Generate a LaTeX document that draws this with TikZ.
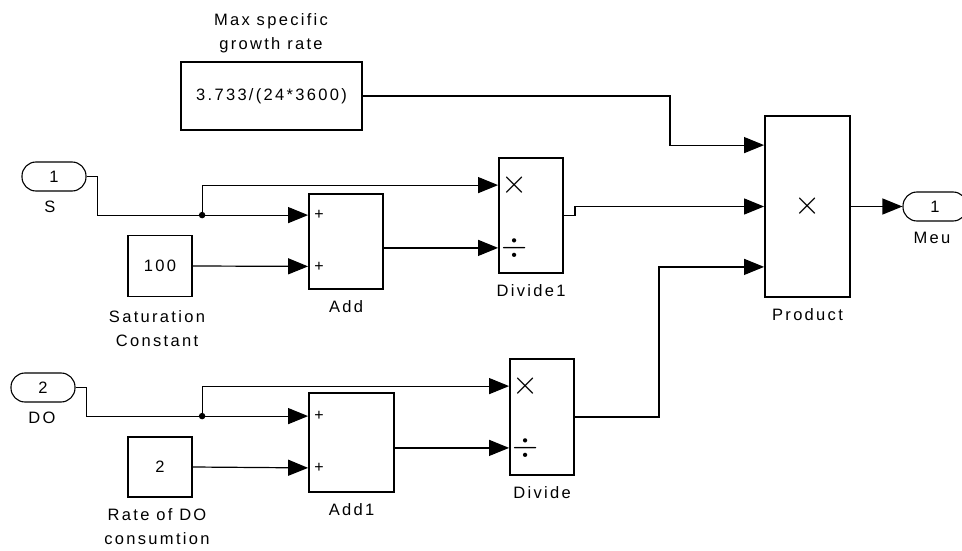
\documentclass[tikz,border=0pt]{standalone}
\usepackage{graphicx}
\usepackage{fontspec}
\setmainfont{Liberation Sans}[LetterSpace=14]
\usetikzlibrary{arrows.meta}
\begin{document}
\begin{tikzpicture}[x=1pt,y=-1pt,
  blk/.style={draw, line width=1.8pt, fill=white, inner sep=0, font=\fontsize{16.5}{20}\selectfont},
  port/.style={draw, line width=1.1pt, rounded corners=14pt, inner sep=0, minimum width=64pt, minimum height=29pt, font=\fontsize{16.5}{20}\selectfont},
  lbl/.style={inner sep=0, anchor=north, align=center, font=\fontsize{16.5}{24}\selectfont},
  sig/.style={line width=1.2pt, -{Triangle[length=20pt,width=16pt]}},
  wire/.style={line width=1.2pt},
  sym/.style={inner sep=0},
  mulsym/.style={inner sep=0, font=\fontsize{24}{26}\selectfont},
  divsym/.style={inner sep=0, font=\fontsize{24}{26}\selectfont},
  jdot/.style={fill=black, circle, inner sep=0, minimum size=6.5pt}
]
\useasboundingbox (0,0) rectangle (962,551);
\clip (0,0) rectangle (962,551);

% blocks
\node[blk, minimum width=181pt, minimum height=68pt] (maxc) at (271.5,96) {3.733/(24*3600)};
\node[blk, minimum width=64pt, minimum height=61pt] (c100) at (160,266) {100};
\node[blk, minimum width=64pt, minimum height=60pt] (c2) at (160,467) {2};
\node[blk, minimum width=74pt, minimum height=95pt] (add) at (346,241.5) {};
\node[blk, minimum width=85pt, minimum height=99pt] (add1) at (351.5,442.5) {};
\node[blk, minimum width=64pt, minimum height=115pt] (div1) at (531,215.5) {};
\node[blk, minimum width=64pt, minimum height=116pt] (div) at (542,417) {};
\node[blk, minimum width=85pt, minimum height=181pt] (prod) at (807.5,206.5) {};

% ports
\node[port] (inS) at (54,176.5) {1};
\node[port] (inDO) at (43,387.5) {2};
\node[port] (outM) at (935,206.5) {1};

% labels
\node[lbl] (lmax) at (271,13) {Max specific\\growth rate};
\node[lbl] (lS) at (50,201) {S};
\node[lbl] (lsat) at (157,310) {Saturation\\Constant};
\node[lbl] (ladd) at ([yshift=-10pt]add.south) {Add};
\node[lbl] (ldiv1) at ([yshift=-10pt]div1.south) {Divide1};
\node[lbl] (lprod) at ([yshift=-10pt]prod.south) {Product};
\node[lbl] (lmeu) at (932,232) {Meu};
\node[lbl] (lDO) at (42,412) {DO};
\node[lbl] (lrate) at (157,508) {Rate of DO\\consumtion};
\node[lbl] (ladd1) at ([yshift=-10pt]add1.south) {Add1};
\node[lbl] (ldiv) at ([yshift=-10pt]div.south) {Divide};

% port coordinates
\coordinate (p1) at ([yshift=-30pt]prod.north west);
\coordinate (p2) at (prod.west);
\coordinate (p3) at ([yshift=31pt]prod.south west);
\coordinate (d1a) at ([yshift=-28pt]div1.north west);
\coordinate (d1b) at ([yshift=26pt]div1.south west);
\coordinate (da) at ([yshift=-28pt]div.north west);
\coordinate (db) at ([yshift=28pt]div.south west);
\coordinate (a1) at ([yshift=-22pt]add.north west);
\coordinate (a2) at ([yshift=23.5pt]add.south west);
\coordinate (b1) at ([yshift=-24pt]add1.north west);
\coordinate (b2) at ([yshift=25pt]add1.south west);
\coordinate (jS) at ([xshift=-106pt]a1);
\coordinate (jD) at ([xshift=-106pt]b1);

% symbols
\node[sym, font=\fontsize{16}{18}\selectfont] (pa1) at ([xshift=11pt]a1) {+};
\node[sym, font=\fontsize{16}{18}\selectfont] (pa2) at ([xshift=11pt]a2) {+};
\node[sym, font=\fontsize{16}{18}\selectfont] (pb1) at ([xshift=11pt]b1) {+};
\node[sym, font=\fontsize{16}{18}\selectfont] (pb2) at ([xshift=11pt]b2) {+};
\node[mulsym] (x1) at ([xshift=16pt]d1a) {\scalebox{1.35}{$\times$}};
\node[divsym] (q1) at ([xshift=16pt]d1b) {\scalebox{1.35}[1.35]{$\div$}};
\node[mulsym] (x2) at ([xshift=16pt]da) {\scalebox{1.35}{$\times$}};
\node[divsym] (q2) at ([xshift=16pt]db) {\scalebox{1.35}[1.35]{$\div$}};
\node[mulsym] (x3) at (prod.center) {\scalebox{1.35}{$\times$}};

% wires
\draw[sig] (maxc.east) -- ++(307,0) |- (p1);
\draw[sig] (inS.east) -- ++(11,0) |- (a1);
\draw[sig] (jS) |- (d1a);
\node[jdot] (dS) at (jS) {};
\draw[sig] (c100.east) -- (a2);
\draw[sig] (add.east |- d1b) -- (d1b);
\draw[sig] (div1.east) -- ++(11,0) |- (p2);
\draw[sig] (inDO.east) -- ++(11,0) |- (b1);
\draw[sig] (jD) |- (da);
\node[jdot] (dD) at (jD) {};
\draw[sig] (c2.east) -- (b2);
\draw[sig] (add1.east |- db) -- (db);
\draw[sig] (div.east) -- ++(84,0) |- (p3);
\draw[sig] (prod.east) -- (outM.west);
\end{tikzpicture}
\end{document}
